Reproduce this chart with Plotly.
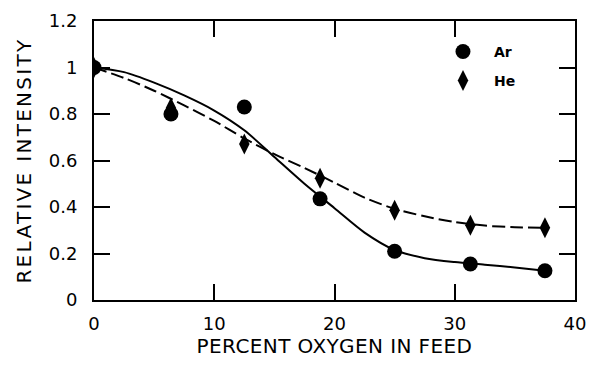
import plotly.graph_objects as go

# measured data points
ar_x = [0, 6.4, 12.5, 18.8, 25.0, 31.3, 37.5]
ar_y = [1.00, 0.80, 0.83, 0.435, 0.21, 0.155, 0.126]
he_x = [0, 6.4, 12.5, 18.8, 25.0, 31.3, 37.5]
he_y = [1.00, 0.826, 0.671, 0.524, 0.386, 0.322, 0.311]

# fitted curves
ar_fit_x = [0, 2.5, 5, 7.5, 10, 12.5, 15, 17.5, 20, 22.5, 25, 27.5, 30, 32.5, 35, 37.5]
ar_fit_y = [1.0, 0.98, 0.935, 0.88, 0.815, 0.73, 0.615, 0.5, 0.395, 0.29, 0.215, 0.18, 0.163, 0.152, 0.14, 0.126]
he_fit_x = [0, 2.5, 5, 7.5, 10, 12.5, 15, 17.5, 20, 22.5, 25, 27.5, 30, 32.5, 35, 37.5]
he_fit_y = [1.0, 0.955, 0.9, 0.837, 0.77, 0.695, 0.627, 0.568, 0.505, 0.44, 0.392, 0.36, 0.335, 0.32, 0.313, 0.311]

x_ticks = [0, 10, 20, 30, 40]
y_ticks = [0, 0.2, 0.4, 0.6, 0.8, 1.0, 1.2]
y_tick_text = ["0", "0.2", "0.4", "0.6", "0.8", "1", "1.2"]

FONT = "DejaVu Sans"

fig = go.Figure()
fig.add_trace(go.Scatter(x=ar_fit_x, y=ar_fit_y, mode="lines",
                         line=dict(color="black", width=2, shape="spline", smoothing=0.8),
                         showlegend=False, hoverinfo="skip"))
fig.add_trace(go.Scatter(x=he_fit_x, y=he_fit_y, mode="lines",
                         line=dict(color="black", width=2, shape="spline", smoothing=0.8, dash="13px,5px"),
                         showlegend=False, hoverinfo="skip"))
fig.add_trace(go.Scatter(x=ar_x, y=ar_y, mode="markers", name="Ar", legend="legend",
                         marker=dict(symbol="circle", size=15, color="black")))
fig.add_trace(go.Scatter(x=he_x, y=he_y, mode="markers", name="He", legend="legend2",
                         marker=dict(symbol="diamond-tall", size=15, color="black")))

axis_common = dict(showline=True, linecolor="black", linewidth=2, mirror="ticks",
                   ticks="inside", ticklen=16, tickwidth=2, tickcolor="black",
                   showgrid=False, zeroline=False, automargin=False,
                   tickfont=dict(family=FONT, size=18, color="black"))

leg_font = dict(family=FONT, size=14, color="black", weight="bold")

fig.update_layout(
    width=589, height=366,
    margin=dict(l=94, r=14, t=21, b=66),
    paper_bgcolor="white", plot_bgcolor="white",
    xaxis=dict(range=[0, 40], tickvals=x_ticks, ticklabelstandoff=6,
               title=dict(text="PERCENT OXYGEN IN FEED", font=dict(family=FONT, size=20, color="black"), standoff=3),
               **axis_common),
    yaxis=dict(range=[0, 1.2], tickvals=y_ticks, ticktext=y_tick_text, ticklabelstandoff=11,
               title=dict(text="RELATIVE INTENSITY", font=dict(family=FONT, size=20, color="black"), standoff=12),
               **axis_common),
    legend=dict(x=0.7484, y=0.889, xanchor="left", yanchor="middle", bgcolor="rgba(0,0,0,0)",
                font=leg_font),
    legend2=dict(x=0.7484, y=0.785, xanchor="left", yanchor="middle", bgcolor="rgba(0,0,0,0)",
                 font=leg_font),
    showlegend=True,
)

post = """
document.querySelectorAll('.ytitle').forEach(function(e){e.style.letterSpacing='2.3px';});
document.querySelectorAll('.xtitle').forEach(function(e){e.style.letterSpacing='0.4px';});
document.querySelectorAll('.legendsymbols').forEach(function(e){e.setAttribute('transform', 'translate(-11,0)');});
"""
fig.write_html("out.html", post_script=post)
